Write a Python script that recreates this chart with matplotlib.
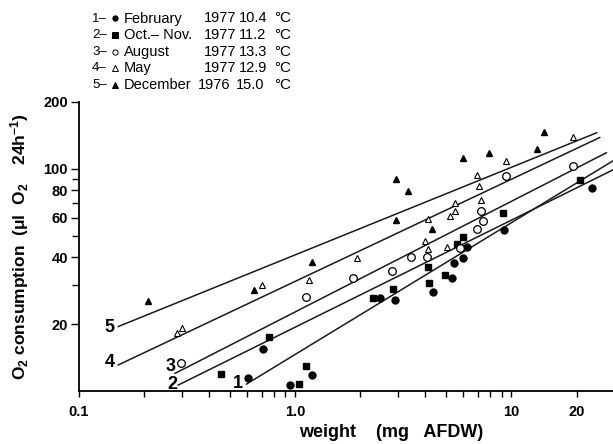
import matplotlib
matplotlib.use('Agg')
import matplotlib.pyplot as plt
from matplotlib.lines import Line2D
from matplotlib.ticker import FixedLocator, FixedFormatter, NullFormatter

plt.rcParams['font.family'] = ['Liberation Sans', 'DejaVu Sans']
plt.rcParams['mathtext.default'] = 'regular'

# --- data (weight mg AFDW, O2 ul/24h) ---
feb_x = [0.606, 0.711, 0.945, 1.191, 2.48, 2.90, 4.35, 5.30, 5.43, 5.98, 6.20, 9.25, 23.5]
feb_y = [11.4, 15.4, 10.6, 11.8, 26.1, 25.7, 28.0, 32.1, 37.8, 39.5, 44.6, 52.7, 81.5]

octnov_x = [0.452, 0.758, 1.043, 1.121, 2.28, 2.82, 4.11, 4.15, 4.92, 5.59, 5.98, 9.10, 20.7]
octnov_y = [11.9, 17.5, 10.8, 12.95, 26.3, 28.9, 36.1, 30.5, 33.2, 45.6, 49.4, 63.0, 88.9]

aug_x = [0.295, 1.127, 1.855, 2.79, 3.45, 4.06, 5.77, 6.94, 7.35, 7.20, 9.42, 19.3]
aug_y = [13.3, 26.5, 32.1, 34.7, 39.9, 40.0, 43.8, 53.5, 58.3, 64.5, 92.6, 102.7]

may_x = [0.285, 0.298, 0.699, 1.161, 1.923, 3.98, 4.11, 4.11, 5.01, 5.19, 5.50, 5.47,
         7.27, 7.11, 6.90, 9.42, 19.2]
may_y = [18.2, 19.3, 30.0, 31.6, 39.6, 47.5, 43.3, 59.3, 44.6, 61.5, 64.2, 70.3,
         72.2, 83.5, 93.6, 108.2, 138.2]

dec_x = [0.209, 0.644, 1.195, 2.91, 3.33, 2.93, 4.27, 5.94, 7.89, 13.15, 14.12]
dec_y = [25.4, 28.5, 38.0, 89.5, 79.6, 58.7, 53.7, 111.3, 117.5, 122.5, 145.6]

# regression lines: (x_start, x_end), (y_start, y_end)
line1 = ([0.596, 29.4], [10.75, 108.2])
line2 = ([0.288, 29.4], [10.64, 98.6])
line3 = ([0.278, 27.5], [12.0, 117.9])
line4 = ([0.152, 25.6], [13.1, 138.0])
line5 = ([0.152, 24.8], [19.5, 145.0])

line_labels = ['1', '2', '3', '4', '5']
line_label_pos = [(0.545, 10.8), (0.27, 10.75), (0.264, 12.95), (0.139, 13.5), (0.139, 19.3)]

legend_months = ['February', 'Oct.\u2013 Nov.', 'August', 'May', 'December']
legend_years = ['1977', '1977', '1977', '1977', '1976']
legend_temps = ['10.4', '11.2', '13.3', '12.9', '15.0']

W, H = 613, 444
fig = plt.figure(figsize=(W / 100, H / 100), dpi=100)
ax = fig.add_axes([79 / W, 1 - 391 / H, 1 - 79 / W, (391 - 101.7) / H])

ax.set_xscale('log')
ax.set_yscale('log')
ax.set_xlim(0.1, 29.5)
ax.set_ylim(10, 200)

for sp in ['top', 'right']:
    ax.spines[sp].set_visible(False)
for sp in ['left', 'bottom']:
    ax.spines[sp].set_linewidth(1.3)

# fitted lines
for lx, ly in [line1, line2, line3, line4, line5]:
    ax.plot(lx, ly, color='#1a1a1a', lw=1.1, clip_on=False, zorder=2)

ms = 5
ax.plot(feb_x, feb_y, 'o', color='black', ms=ms, clip_on=False, zorder=3)
ax.plot(octnov_x, octnov_y, 's', color='black', ms=ms - 0.5, clip_on=False, zorder=3)
ax.plot(aug_x, aug_y, 'o', mfc='white', mec='black', mew=0.9, ms=ms + 0.5, clip_on=False, zorder=3)
ax.plot(may_x, may_y, '^', mfc='white', mec='black', mew=0.8, ms=ms - 0.5, clip_on=False, zorder=3)
ax.plot(dec_x, dec_y, '^', color='black', ms=ms - 0.5, clip_on=False, zorder=3)

for lab, (tx, ty) in zip(line_labels, line_label_pos):
    ax.text(tx, ty, lab, ha='center', va='center', fontsize=13, fontweight='bold',
            clip_on=False, zorder=4)

# ticks
ax.xaxis.set_major_locator(FixedLocator([0.1, 1.0, 10, 20]))
ax.xaxis.set_major_formatter(FixedFormatter(['0.1', '1.0', '10', '20']))
ax.xaxis.set_minor_locator(FixedLocator([0.2, 0.3, 0.4, 0.5, 0.6, 0.7, 0.8, 0.9,
                                         2, 3, 4, 5, 6, 7, 8, 9]))
ax.xaxis.set_minor_formatter(NullFormatter())
ax.yaxis.set_major_locator(FixedLocator([20, 40, 60, 80, 100, 200]))
ax.yaxis.set_major_formatter(FixedFormatter(['20', '40', '60', '80', '100', '200']))
ax.yaxis.set_minor_locator(FixedLocator([30, 50, 70, 90]))
ax.yaxis.set_minor_formatter(NullFormatter())
ax.tick_params(axis='both', which='both', direction='out', width=1.0, labelsize=10.5)
ax.tick_params(axis='x', which='both', length=4, pad=6)
ax.tick_params(axis='y', which='major', length=6, pad=2)
ax.tick_params(axis='y', which='minor', length=5)
for t in ax.get_xticklabels() + ax.get_yticklabels():
    t.set_fontweight('bold')

ax.set_ylabel('O$_2$ consumption  ($\\mu$l  O$_2$    24h$^{-1}$)', fontsize=12.5,
              fontweight='bold', labelpad=9)
fig.text(391 / W, 1 - 432 / H, 'weight    (mg   AFDW)', ha='center', va='center',
         fontsize=13, fontweight='bold')

# key at the top
leg_markers = [dict(marker='o', mfc='black', mec='black'),
               dict(marker='s', mfc='black', mec='black'),
               dict(marker='o', mfc='white', mec='black'),
               dict(marker='^', mfc='white', mec='black'),
               dict(marker='^', mfc='black', mec='black')]
year_px = [204, 204, 204, 204, 198]
temp_px = [239, 239, 239, 239, 236]
for i in range(5):
    py = 18.5 + i * 16.6
    fy = 1 - py / H
    fig.text(92 / W, fy, f'{i + 1}\u2013', ha='left', va='center', fontsize=9.5)
    fig.add_artist(Line2D([115 / W], [fy], transform=fig.transFigure, ls='none',
                          ms=3.8, mew=0.7, **leg_markers[i]))
    fig.text(124 / W, fy, legend_months[i], ha='left', va='center', fontsize=10.5)
    fig.text(year_px[i] / W, fy, legend_years[i], ha='left', va='center', fontsize=10.5)
    fig.text(temp_px[i] / W, fy, legend_temps[i], ha='left', va='center', fontsize=10.5)
    fig.text(274 / W, fy, '\u00b0C', ha='left', va='center', fontsize=11)

fig.savefig('out.png', dpi=100)
